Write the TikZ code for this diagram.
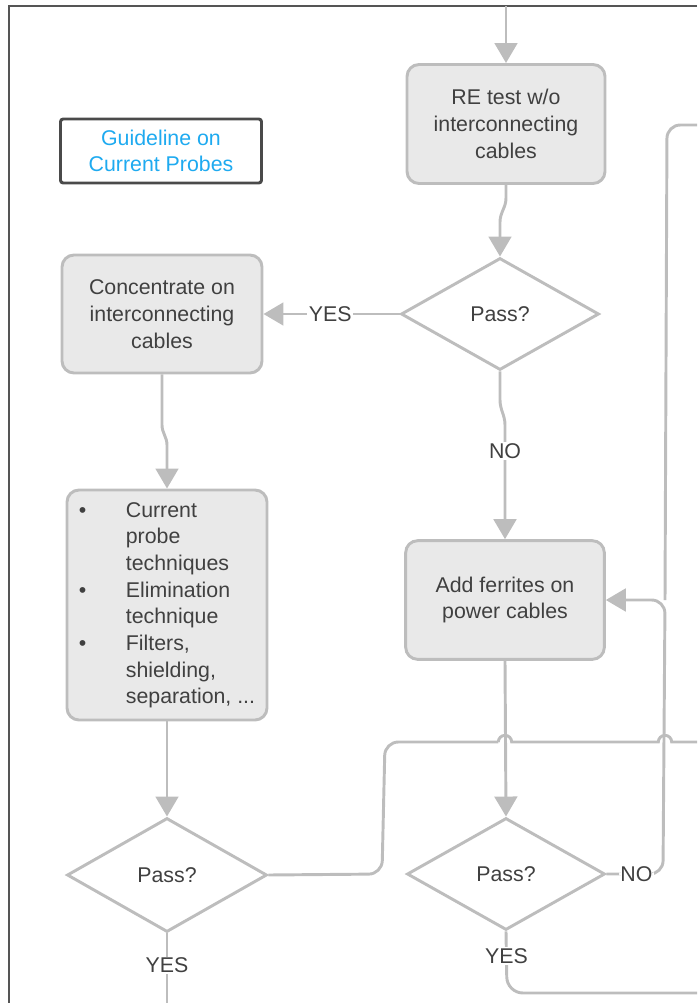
\documentclass[tikz,border=0pt]{standalone}
\usepackage{fontspec}
\setmainfont{Liberation Sans}
\usetikzlibrary{arrows.meta,shapes.geometric}
\definecolor{linegray}{HTML}{BDBDBD}
\definecolor{boxfill}{HTML}{E9E9E9}
\definecolor{boxline}{HTML}{BDBDBD}
\definecolor{txt}{HTML}{404040}
\definecolor{guideblue}{HTML}{1EAAF0}
\definecolor{framec}{HTML}{555555}
\definecolor{guideline}{HTML}{4A4A4A}

\begin{document}
\begin{tikzpicture}[x=0.75pt,y=-0.75pt,
  every node/.style={font=\fontsize{16pt}{20pt}\selectfont, text=txt},
  stepbox/.style={draw=boxline, fill=boxfill, line width=2.2pt, rounded corners=9pt, align=center, inner sep=4pt},
  decision/.style={diamond, draw=boxline, fill=white, line width=2.2pt, inner sep=0pt, aspect=1.77},
  flow/.style={draw=linegray, line width=2.2pt},
  arrowflow/.style={flow, -{Triangle[width=17pt,length=15pt]}},
  lbl/.style={fill=white, inner sep=1pt},
]
\useasboundingbox (0,0) rectangle (697,1003);

% page frame (only top and left edges are in view)
\draw[framec, line width=1.1pt] (697,6) -- (9,6) -- (9,1003);

% legend box
\node[draw=guideline, line width=2.2pt, rounded corners=2pt, fill=white,
      text=guideblue, align=center, minimum width=150.75pt, minimum height=48pt]
      (guide) at (161,151) {Guideline on\\Current Probes};

% process steps
\node[stepbox, minimum width=148.5pt, minimum height=89.25pt] (re) at (506,124)
  {RE test w/o\\interconnecting\\cables};
\node[decision, minimum width=148.5pt, minimum height=84pt] (d1) at (500,314) {Pass?};
\node[stepbox, minimum width=150pt, minimum height=88.5pt] (conc) at (162,314)
  {Concentrate on\\interconnecting\\cables};
\node[stepbox, minimum width=150pt, minimum height=172.5pt] (bul) at (167,605)
  {\begin{tabular}{@{}p{35.25pt}@{}l@{}}
   \textbullet & Current\\
               & probe\\
               & techniques\\
   \textbullet & Elimination\\
               & technique\\
   \textbullet & Filters,\\
               & shielding,\\
               & separation, ...
   \end{tabular}};
\node[decision, minimum width=150pt, minimum height=85.5pt] (d2) at (167,875) {Pass?};
\node[stepbox, minimum width=149pt, minimum height=89pt] (fer) at (505,600)
  {Add ferrites on\\power cables};
\node[decision, minimum width=148.5pt, minimum height=84pt] (d3) at (506,874) {Pass?};

% free ends of connectors
\coordinate (topin) at (506,6);
\coordinate (rtop)  at (697,125);
\coordinate (rmid)  at (697,742);
\coordinate (rbot)  at (697,993);
\coordinate (lbot)  at (167,1003);
\coordinate (hopA)  at (498.33,742);
\coordinate (merge) at (665,600);

% connectors
\draw[arrowflow] (topin) -- (re.north);
\draw[arrowflow] (re.south) -- (506,198) to[out=-90,in=90] (500,222) -- (d1.north);
\draw[arrowflow] (d1.west) -- node[lbl,pos=0.51]{YES} (conc.east);
\draw[arrowflow] (d1.south) -- (500,400) to[out=-90,in=90] (505,425)
  -- node[lbl,pos=0.23]{NO} (fer.north);
\draw[arrowflow] (conc.south) -- (162,425) to[out=-90,in=90] (167,445) -- (bul.north);
\draw[arrowflow] (bul.south) -- (d2.north);
\draw[arrowflow] (fer.south) -- (d3.north);
\draw[flow] (d2.south) -- node[lbl,pos=0.46]{YES} (lbot);

% loop from the lower-left decision, hopping over two crossings
\draw[flow, rounded corners=10pt] (d2.east) -- (382,874) -- (385,742) -- (hopA);
\draw[flow] (hopA) arc[start angle=180,end angle=0,radius=5pt] -- (658.33,742)
  arc[start angle=180,end angle=0,radius=5pt] -- (rmid);

% NO loop back to the ferrite step
\draw[arrowflow, rounded corners=10pt] (d3.east) -- node[lbl,pos=0.53]{NO} (663,874)
  -- (merge) -- (fer.east);
\draw[flow, rounded corners=10pt] (rtop) -- (667,125) -- (merge);

% YES exit of the lower-right decision
\draw[flow, rounded corners=12pt] (d3.south) -- node[lbl,pos=0.4]{YES} (507,993) -- (rbot);
\end{tikzpicture}
\end{document}
